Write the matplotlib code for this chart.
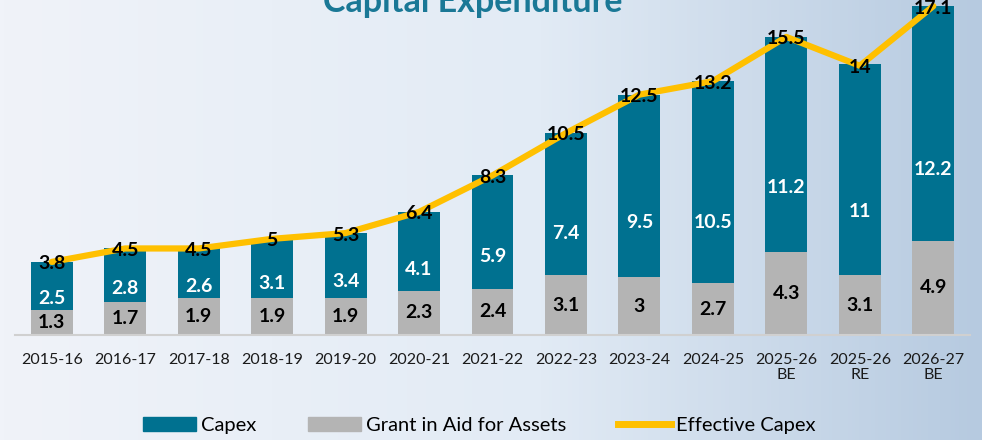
import numpy as np
import matplotlib.pyplot as plt
from matplotlib.patches import Patch
from matplotlib.lines import Line2D

plt.rcParams['font.family'] = ['Lato', 'DejaVu Sans']

years = ['2015-16', '2016-17', '2017-18', '2018-19', '2019-20', '2020-21', '2021-22',
         '2022-23', '2023-24', '2024-25', '2025-26\nBE', '2025-26\nRE', '2026-27\nBE']
capex = [2.5, 2.8, 2.6, 3.1, 3.4, 4.1, 5.9, 7.4, 9.5, 10.5, 11.2, 11, 12.2]
grant = [1.3, 1.7, 1.9, 1.9, 1.9, 2.3, 2.4, 3.1, 3, 2.7, 4.3, 3.1, 4.9]
effective = [3.8, 4.5, 4.5, 5, 5.3, 6.4, 8.3, 10.5, 12.5, 13.2, 15.5, 14, 17.1]

teal = '#007190'
grey = '#B4B4B4'
yellow = '#FFC000'

fig = plt.figure(figsize=(9.82, 4.4), dpi=100)

# background gradient
bg = fig.add_axes([0, 0, 1, 1], zorder=-10)
gx = np.linspace(0, 1, 256)
c_left = np.array([240, 243, 249]) / 255
c_mid = np.array([226, 235, 245]) / 255
c_right = np.array([182, 202, 224]) / 255
cols = np.where(gx[:, None] < 0.55,
                c_left + (c_mid - c_left) * (gx[:, None] / 0.55),
                c_mid + (c_right - c_mid) * ((gx[:, None] - 0.55) / 0.45))
bg.imshow(cols[None, :, :], aspect='auto', extent=[0, 1, 0, 1])
bg.axis('off')

ax = fig.add_axes([15 / 982, 105 / 440, 955 / 982, 335 / 440])
ax.set_facecolor('none')
x = np.arange(len(years))
w = 0.57
ax.bar(x, grant, w, color=grey, zorder=2)
ax.bar(x, capex, w, bottom=grant, color=teal, zorder=2)
ax.plot(x, effective, color=yellow, lw=4.5, solid_capstyle='round', zorder=3)

for i in range(len(years)):
    ax.text(x[i], grant[i] / 2, f'{grant[i]:g}', ha='center', va='center',
            fontsize=14, fontweight='bold', color='black', zorder=4)
    yl = grant[i] + max(0.32 * capex[i] - 0.5, 0.3)
    ax.text(x[i], yl + 0.3, f'{capex[i]:g}', ha='center', va='center',
            fontsize=14, fontweight='bold', color='white', zorder=4)
    ax.text(x[i], effective[i] - 0.1, f'{effective[i]:g}', ha='center', va='center',
            fontsize=14, fontweight='bold', color='black', zorder=5)

ax.set_xlim(-0.5, len(years) - 0.5)
ax.set_ylim(0, 17.42)
ax.set_xticks(x)
ax.set_xticklabels(years, fontsize=11.5, color='#1a1a1a', linespacing=1.1)
ax.tick_params(axis='x', length=0, pad=13)
ax.set_yticks([])
for s in ['top', 'right', 'left']:
    ax.spines[s].set_visible(False)
ax.spines['bottom'].set_color('#d0d0d0')
ax.spines['bottom'].set_linewidth(1.5)

fig.text(0.481, 1 - 12 / 440, 'Capital Expenditure', ha='center', va='baseline',
         fontsize=24.5, fontweight='bold', color='#1A7896')

handles = [Patch(color=teal), Patch(color=grey), Line2D([], [], color=yellow, lw=5)]
fig.legend(handles, ['Capex', 'Grant in Aid for Assets', 'Effective Capex'],
           loc='center', bbox_to_anchor=(0.488, 0.032), ncol=3, frameon=False,
           fontsize=14.5, handlelength=2.6, handleheight=0.7, handletextpad=0.25,
           columnspacing=2.6)

fig.savefig('out.png', dpi=100)
